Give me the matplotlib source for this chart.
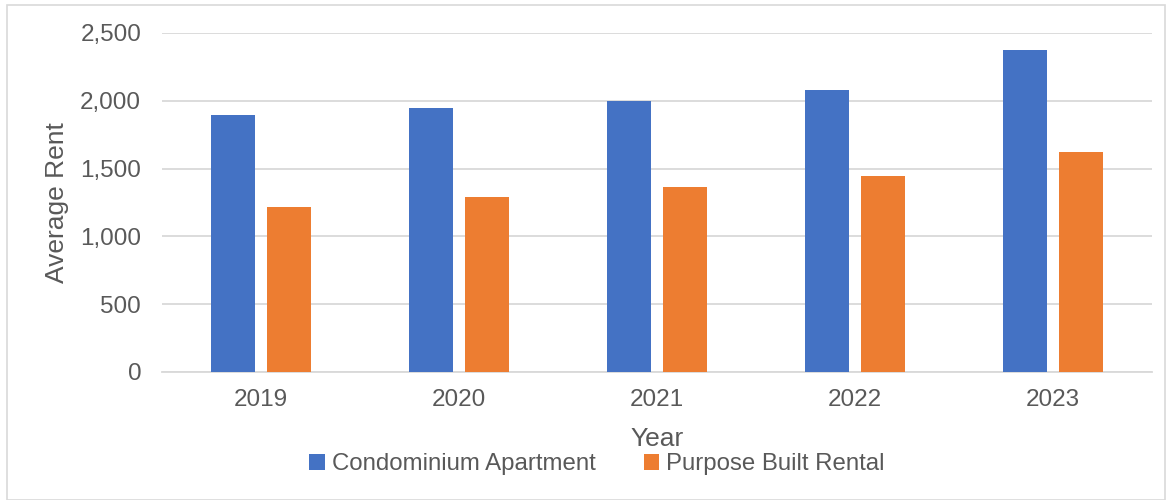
import numpy as np
import matplotlib.pyplot as plt
from matplotlib.patches import Rectangle

years = ["2019", "2020", "2021", "2022", "2023"]
condo_rent = [1895, 1946, 1995, 2080, 2374]
rental_rent = [1219, 1290, 1361, 1442, 1619]

blue = "#4472C4"
orange = "#ED7D31"
grey_text = "#595959"
grid_col = "#D9D9D9"

plt.rcParams["font.family"] = ["Liberation Sans", "DejaVu Sans"]

fig = plt.figure(figsize=(11.69, 5.0), dpi=100)
ax = fig.add_axes([162 / 1169, 1 - 372 / 500, (1152 - 162) / 1169, (372 - 33) / 500])

x = np.arange(len(years))
w = 0.225
ax.bar(x - 0.142, condo_rent, w, color=blue, label="Condominium Apartment", zorder=3)
ax.bar(x + 0.142, rental_rent, w, color=orange, label="Purpose Built Rental", zorder=3)

ax.set_xlim(-0.5, len(years) - 0.5)
ax.set_ylim(0, 2500)
ax.set_yticks(range(0, 2501, 500))
ax.set_yticklabels([f"{v:,}" for v in range(0, 2501, 500)])
ax.set_xticks(x)
ax.set_xticklabels(years)

ax.grid(axis="y", color=grid_col, linewidth=1.3, zorder=0)
for side in ["top", "right", "left"]:
    ax.spines[side].set_visible(False)
ax.spines["bottom"].set_color(grid_col)
ax.spines["bottom"].set_linewidth(1.3)
ax.tick_params(axis="both", length=0, labelsize=17.5, colors=grey_text, pad=12)
ax.tick_params(axis="y", pad=15)

ax.set_ylabel("Average Rent", fontsize=19, color=grey_text, labelpad=8)
ax.set_xlabel("Year", fontsize=19, color=grey_text, labelpad=12)

fig.legend(loc="center", bbox_to_anchor=(597 / 1169, 1 - 464 / 500), ncol=2,
           frameon=False, fontsize=17.3, labelcolor=grey_text,
           handlelength=0.65, handleheight=0.65, handletextpad=0.3, columnspacing=2.0)

# thin frame around the chart area
fig.patches.append(Rectangle((7 / 1169, 0.0), (1165 - 7) / 1169, 1 - 5 / 500,
                             transform=fig.transFigure, fill=False,
                             edgecolor=grid_col, linewidth=1.2))

fig.savefig("out.png", dpi=100)
